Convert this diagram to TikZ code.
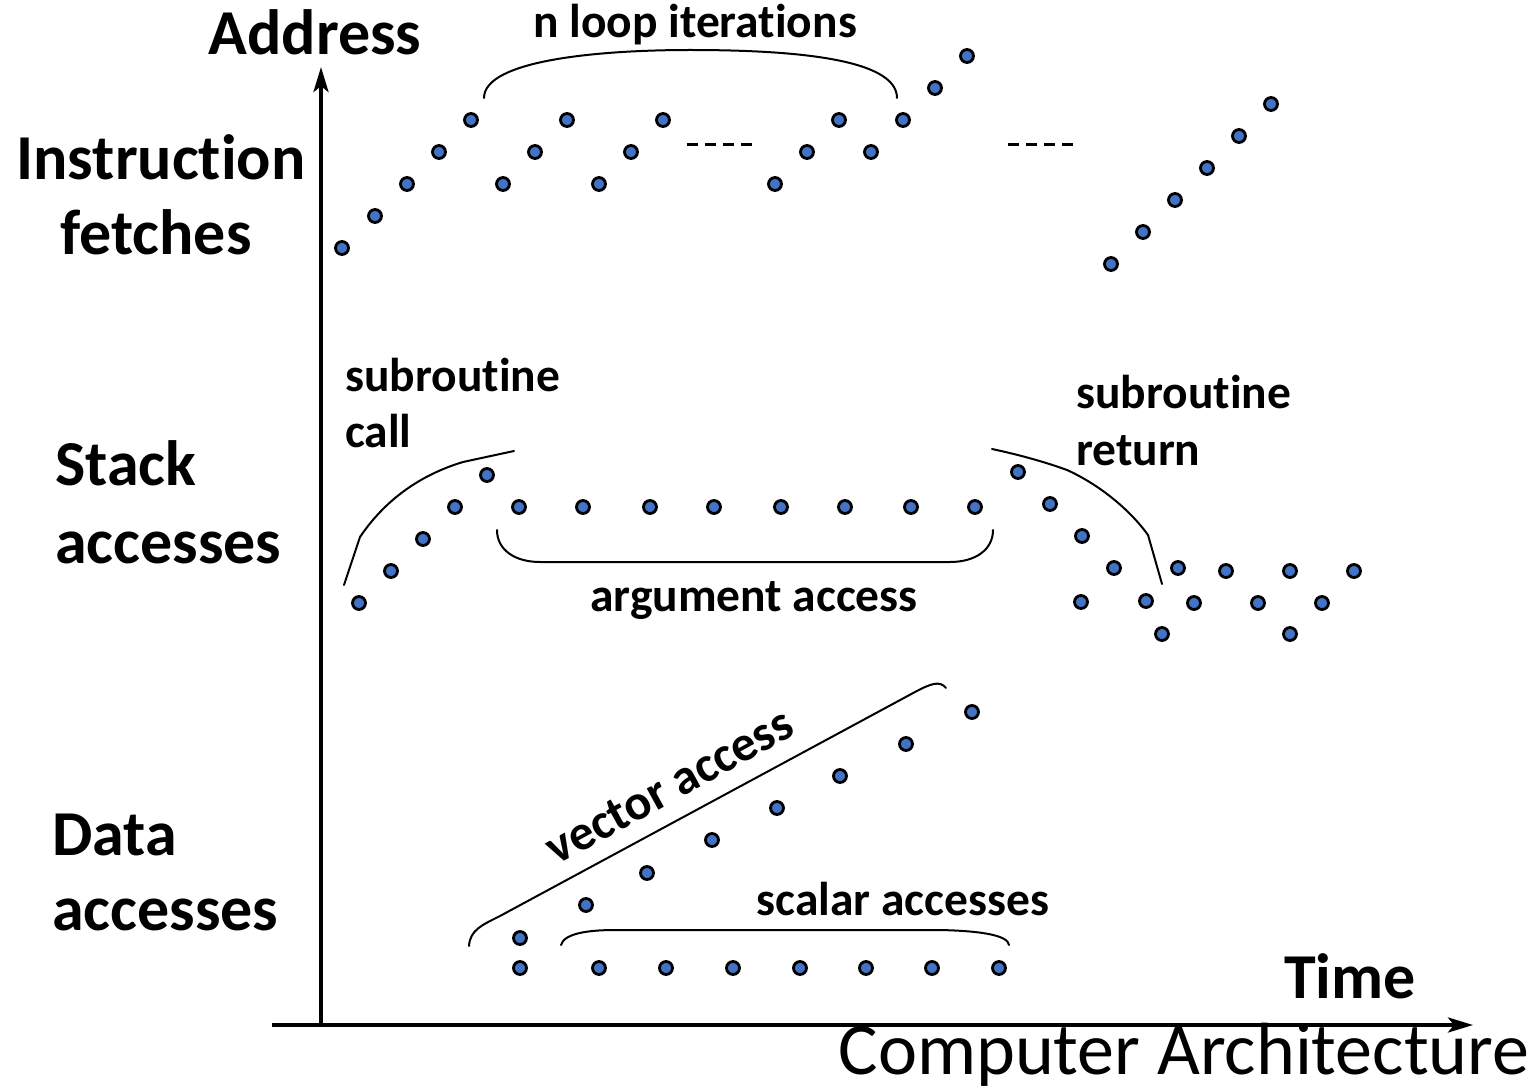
\documentclass[tikz,border=0pt]{standalone}
\usepackage{fontspec}
\setmainfont[Ligatures={NoCommon}]{Carlito}
\usetikzlibrary{arrows.meta}
\definecolor{dotblue}{HTML}{4472C4}
\begin{document}
\begin{tikzpicture}[x=1pt,y=-1pt,
  pt/.style={circle,draw=black,fill=dotblue,line width=2.8pt,minimum size=13pt,inner sep=0pt},
  big/.style={font=\fontsize{64}{76}\selectfont\bfseries,inner sep=0pt},
  mid/.style={font=\fontsize{47.5}{56}\selectfont\bfseries,inner sep=0pt},
  plain/.style={font=\fontsize{74}{88}\selectfont,inner sep=0pt},
  brace/.style={line width=2pt,line cap=round},
  axis/.style={line width=4pt,-{Stealth[length=25pt,width=15pt,inset=6pt]}},
  gapdash/.style={line width=3pt,dash pattern=on 11pt off 7pt},
]
\useasboundingbox (0,0) rectangle (1537,1091);

% axes
\coordinate (origin) at (321,1025);
\coordinate (ytip) at (321,67);
\coordinate (xstart) at (272,1025);
\coordinate (xtip) at (1473,1025);
\draw[axis] (origin) -- (ytip);
\draw[axis] (xstart) -- (xtip);

% labels
\node[big,anchor=base] (address) at (315,55) {Address};
\node[big,anchor=base] (time) at (1350,998) {Time};
\node[plain,anchor=base] (arch) at (1184,1074) {Computer Architecture};
\node[big,anchor=base] (instr1) at (161,180) {Instruction};
\node[big,anchor=base] (instr2) at (156,255) {fetches};
\node[big,anchor=base west] (stack1) at (55,485) {Stack};
\node[big,anchor=base west] (stack2) at (55,563) {accesses};
\node[big,anchor=base west] (data1) at (52,855) {Data};
\node[big,anchor=base west] (data2) at (52,930) {accesses};
\node[mid,anchor=base] (loop) at (695,38) {n loop iterations};
\node[mid,anchor=base west] (call1) at (345,391) {subroutine};
\node[mid,anchor=base west] (call2) at (345,447) {call};
\node[mid,anchor=base west] (ret1) at (1076,408) {subroutine};
\node[mid,anchor=base west] (ret2) at (1076,465) {return};
\node[mid,anchor=base] (arg) at (754,611) {argument access};
\node[mid,anchor=base] (scal) at (903,915) {scalar accesses};
\node[mid,anchor=base,rotate=28.7,font=\fontsize{50}{58}\selectfont\bfseries] (vec) at (677,800) {vector access};

% instruction fetch dots
\foreach \x/\y [count=\i] in {342/248,375/216,407/184,439/152,471/120,503/184,535/152,567/120,599/184,631/152,663/120,
  775/184,807/152,839/120,871/152,903/120,935/88,967/56,
  1111/264,1143/232,1175/200,1207/168,1239/136,1271/104}
  \node[pt] (i\i) at (\x,\y) {};
\coordinate (da1) at (687,145); \coordinate (da2) at (752,145);
\coordinate (db1) at (1008,145); \coordinate (db2) at (1073,145);
\draw[gapdash] (da1) -- (da2);
\draw[gapdash] (db1) -- (db2);

% stack dots
\foreach \x/\y [count=\i] in {359/603,391/571,423/539,455/507,487/475,
  519/507,583/507,650/507,714/507,781/507,845/507,911/507,975/507,
  1018/472,1050/504,1082/536,1114/568,1081/602,1146/601,1178/568,1162/634,
  1194/603,1226/571,1258/603,1290/571,1290/634,1322/603,1354/571}
  \node[pt] (s\i) at (\x,\y) {};

% data dots
\foreach \x/\y [count=\i] in {520/938,586/905,647/873,712/840,777/808,840/776,906/744,972/712,
  520/968,599/968,666/968,733/968,800/968,866/968,932/968,999/968}
  \node[pt] (d\i) at (\x,\y) {};

% braces
\coordinate (lp1) at (484,98); \coordinate (lpm) at (690,50); \coordinate (lp2) at (897,98);
\draw[brace] (lp1) .. controls (484,60) and (600,50) .. (lpm) .. controls (790,50) and (897,58) .. (lp2);

\coordinate (cb1) at (344,585); \coordinate (cbk) at (360,537); \coordinate (cbm) at (463,462); \coordinate (cb2) at (514,451);
\draw[brace] (cb1) -- (cbk) .. controls (385,500) and (420,475) .. (cbm) -- (cb2);

\coordinate (ab1) at (497,530); \coordinate (abl) at (540,562); \coordinate (abr) at (950,562); \coordinate (ab2) at (993,530);
\draw[brace] (ab1) .. controls (497,550) and (515,562) .. (abl) -- (abr) .. controls (975,562) and (993,550) .. (ab2);

\coordinate (rb1) at (992,449); \coordinate (rbm) at (1067,470); \coordinate (rbk) at (1148,535); \coordinate (rb2) at (1162,584);
\draw[brace] (rb1) .. controls (1020,455) and (1045,462) .. (rbm) .. controls (1100,485) and (1130,510) .. (rbk) -- (rb2);

\coordinate (vb1) at (469,946); \coordinate (vbl) at (500,916); \coordinate (vbr) at (915,692); \coordinate (vb2) at (946,688);
\draw[brace] (vb1) .. controls (470,930) and (482,925) .. (vbl) -- (vbr) .. controls (930,684) and (940,680) .. (vb2);

\coordinate (sb1) at (561,945); \coordinate (sbl) at (615,930); \coordinate (sbr) at (940,930); \coordinate (sb2) at (1009,945);
\draw[brace] (sb1) .. controls (564,933) and (590,930) .. (sbl) -- (sbr) .. controls (985,931) and (1008,936) .. (sb2);
\end{tikzpicture}
\end{document}
